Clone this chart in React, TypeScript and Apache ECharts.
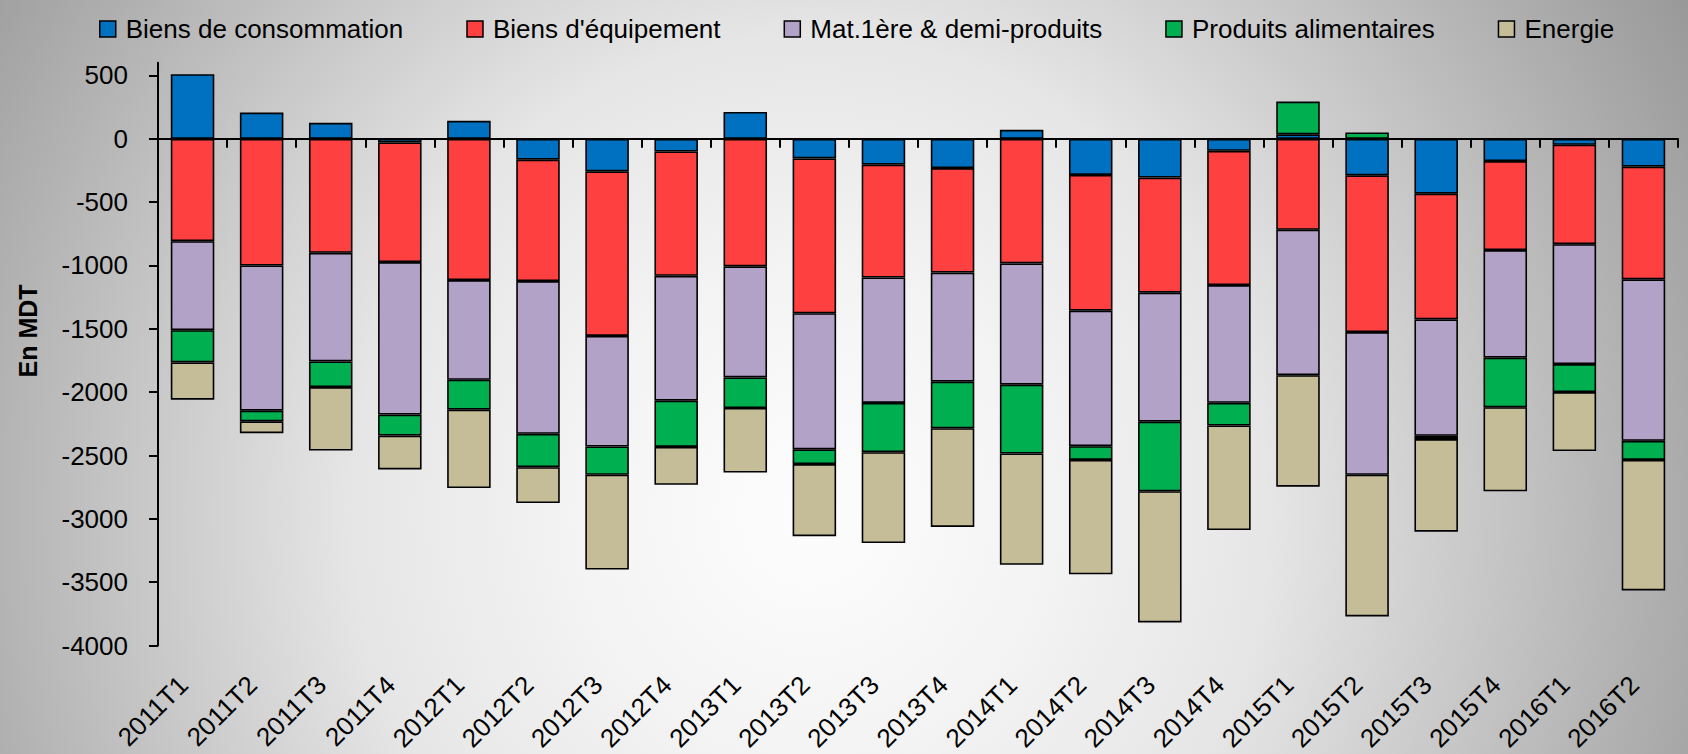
import React, { useEffect, useRef } from "react";
import * as echarts from "echarts";

const categories = [
  "2011T1", "2011T2", "2011T3", "2011T4",
  "2012T1", "2012T2", "2012T3", "2012T4",
  "2013T1", "2013T2", "2013T3", "2013T4",
  "2014T1", "2014T2", "2014T3", "2014T4",
  "2015T1", "2015T2", "2015T3", "2015T4",
  "2016T1", "2016T2",
];

const seriesNames = [
  "Biens de consommation",
  "Biens d'équipement",
  "Mat.1ère & demi-produits",
  "Produits alimentaires",
  "Energie",
];

const biensConsommation = [510, 207, 126, -29, 142, -165, -257, -100, 212, -155, -204, -231, 71, -285, -306, -95, 35, -288, -433, -176, -47, -219];
const biensEquipement = [-808, -1000, -900, -944, -1115, -958, -1299, -982, -1007, -1222, -891, -825, -984, -1072, -909, -1060, -718, -1238, -993, -702, -785, -891];
const matieres = [-703, -1146, -857, -1204, -787, -1206, -873, -985, -877, -1074, -990, -861, -957, -1069, -1018, -929, -1148, -1126, -919, -849, -946, -1274];
const alimentaires = [-254, -84, -203, -166, -236, -263, -223, -365, -241, -117, -389, -368, -543, -109, -549, -179, 259, 50, -25, -392, -221, -151];
const energie = [-294, -94, -501, -267, -619, -283, -748, -299, -509, -569, -717, -779, -879, -903, -1036, -826, -880, -1118, -731, -663, -466, -1030];

const seriesColors = ["#0070C0", "#FF4040", "#B3A2C7", "#00B050", "#C4BD97"];

const yTicks = [-4000, -3500, -3000, -2500, -2000, -1500, -1000, -500, 0, 500];
const yMin = -4000;
const yMax = 600;
const yTitle = "En MDT";

export default function App() {
  const ref = useRef<HTMLDivElement>(null);

  useEffect(() => {
    if (!ref.current) return;
    const chart = echarts.init(ref.current, null, { renderer: "svg" });
    const font = "'Liberation Sans', Arial, Helvetica, sans-serif";
    const allData = [biensConsommation, biensEquipement, matieres, alimentaires, energie];

    const series = seriesNames.map((name, i) => ({
      name,
      type: "bar",
      stack: "total",
      stackStrategy: "samesign",
      xAxisIndex: 0,
      yAxisIndex: 0,
      data: allData[i],
      barCategoryGap: "37%",
      itemStyle: { color: seriesColors[i], borderColor: "#000", borderWidth: 1.6 },
      emphasis: { disabled: true },
    }));

    chart.setOption({
      animation: false,
      backgroundColor: "transparent",
      textStyle: { fontFamily: font },
      legend: {
        left: 99,
        top: 16,
        padding: 0,
        itemWidth: 16,
        itemHeight: 16,
        itemGap: 63,
        icon: "rect",
        selectedMode: false,
        itemStyle: { borderColor: "#000", borderWidth: 1.5 },
        textStyle: { fontSize: 26, color: "#000", fontFamily: font, padding: [0, 0, 0, 5] },
        data: seriesNames,
      },
      grid: { left: 158, right: 10, top: 62.8, bottom: 106.7, containLabel: false },
      xAxis: [
        {
          type: "category",
          data: categories,
          axisLine: { show: true, onZero: true, lineStyle: { color: "#000", width: 2 } },
          axisTick: { show: true, length: 9, lineStyle: { color: "#000", width: 2 } },
          axisLabel: { show: false },
          splitLine: { show: false },
        },
        {
          type: "category",
          data: categories,
          position: "bottom",
          axisLine: { show: false, onZero: false },
          axisTick: { show: false },
          axisLabel: {
            show: true,
            rotate: 45,
            fontSize: 26,
            color: "#000",
            margin: 44,
            verticalAlign: "bottom",
            fontFamily: font,
            interval: 0,
          },
          splitLine: { show: false },
        },
      ],
      yAxis: {
        type: "value",
        min: yMin,
        max: yMax,
        interval: 500,
        splitLine: { show: false },
        axisLine: { show: true, lineStyle: { color: "#000", width: 2 } },
        axisTick: { show: true, length: 9, lineStyle: { color: "#000", width: 2 }, customValues: yTicks },
        axisLabel: {
          customValues: yTicks,
          fontSize: 26,
          color: "#000",
          margin: 30,
          fontFamily: font,
          formatter: (v: number) => (yTicks.indexOf(v) >= 0 ? String(v) : ""),
        },
      },
      graphic: [
        {
          type: "text",
          x: 28,
          y: 331,
          rotation: Math.PI / 2,
          style: {
            text: yTitle,
            font: `bold 25px ${font}`,
            fill: "#000",
            textAlign: "center",
            textVerticalAlign: "middle",
          },
        },
      ],
      series,
    });

    return () => chart.dispose();
  }, []);

  return (
    <div
      ref={ref}
      style={{
        position: "absolute",
        left: 0,
        top: 0,
        width: 1688,
        height: 754,
        background:
          "radial-gradient(ellipse 60% 140% at 48% 68%, #fdfdfd 0%, #f4f4f4 22%, #e6e6e6 45%, #b4b4b4 80%, #989898 100%)",
      }}
    />
  );
}
